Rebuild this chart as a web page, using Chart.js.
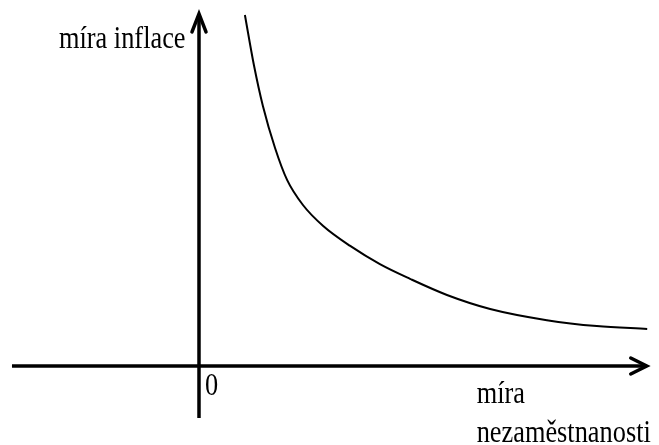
<!DOCTYPE html>
<html>
<head>
<meta charset="utf-8">
<script src="https://cdn.jsdelivr.net/npm/chart.js@4/dist/chart.umd.min.js"></script>
<style>
  html, body { margin: 0; padding: 0; background: #fff; }
  canvas { display: block; }
</style>
</head>
<body>
<canvas id="graph" width="659" height="445"></canvas>
<script>
// Phillipsova krivka (libovolne jednotky)
const unemployment = [1.02, 1.22, 1.42, 1.69, 1.96, 2.31, 2.76, 3.36, 4.02, 4.69, 5.51, 6.47, 7.73, 8.84, 9.96];
const inflation    = [10.03, 8.60, 7.43, 6.23, 5.31, 4.60, 4.00, 3.43, 2.91, 2.49, 2.03, 1.63, 1.31, 1.14, 1.06];

// rozsah os
const xRange = [-4.4222, 10.2222];
const yRange = [-2.2571, 10.4571];
const xAxisSpan = [-4.156, 9.95];
const yAxisSpan = [-1.486, 10.06];

const yLabel = 'míra inflace';
const xLabel = ['míra', 'nezaměstnanosti'];
const originLabel = '0';

const curve = unemployment.map((u, i) => ({x: u, y: inflation[i]}));

const serif = '"Liberation Serif", "DejaVu Serif", serif';

function serifText(ctx, txt, x, y) {
  ctx.save();
  ctx.translate(x, y);
  ctx.scale(0.85, 1);
  ctx.fillText(txt, 0, 0);
  ctx.restore();
}

const arrowsAndLabels = {
  id: 'arrowsAndLabels',
  afterDatasetsDraw(chart) {
    const ctx = chart.ctx;
    const xs = chart.scales.x, ys = chart.scales.y;
    const ox = xs.getPixelForValue(0), oy = ys.getPixelForValue(0);

    ctx.save();
    ctx.strokeStyle = '#000';
    ctx.lineWidth = 3.5;
    ctx.lineCap = 'round';
    ctx.lineJoin = 'miter';

    // sipka na ose x
    const tx = xs.getPixelForValue(xAxisSpan[1]);
    ctx.beginPath();
    ctx.moveTo(tx - 16, oy - 8);
    ctx.lineTo(tx, oy);
    ctx.lineTo(tx - 16, oy + 8);
    ctx.stroke();

    // sipka na ose y
    const ty = ys.getPixelForValue(yAxisSpan[1]);
    ctx.beginPath();
    ctx.moveTo(ox - 7, ty + 18);
    ctx.lineTo(ox, ty);
    ctx.lineTo(ox + 7, ty + 18);
    ctx.stroke();

    // popisky
    ctx.fillStyle = '#000';
    ctx.font = '31px ' + serif;
    ctx.textBaseline = 'alphabetic';
    ctx.textAlign = 'left';
    serifText(ctx, yLabel, ox - 140, ty + 34);
    serifText(ctx, originLabel, ox + 6, oy + 29);
    const lx = xs.getPixelForValue(6.17);
    serifText(ctx, xLabel[0], lx, oy + 37);
    serifText(ctx, xLabel[1], lx, oy + 76);
    ctx.restore();
  }
};

new Chart(document.getElementById('graph'), {
  type: 'scatter',
  data: {
    datasets: [
      {
        label: 'osa x',
        data: [{x: xAxisSpan[0], y: 0}, {x: xAxisSpan[1], y: 0}],
        showLine: true,
        borderColor: '#000',
        borderWidth: 3.5,
        pointRadius: 0
      },
      {
        label: 'osa y',
        data: [{x: 0, y: yAxisSpan[0]}, {x: 0, y: yAxisSpan[1]}],
        showLine: true,
        borderColor: '#000',
        borderWidth: 3.5,
        pointRadius: 0
      },
      {
        label: 'Phillipsova křivka',
        data: curve,
        showLine: true,
        borderColor: '#000',
        borderWidth: 2,
        pointRadius: 0,
        cubicInterpolationMode: 'monotone'
      }
    ]
  },
  options: {
    responsive: false,
    devicePixelRatio: 1,
    animation: false,
    layout: { padding: 0 },
    plugins: {
      legend: { display: false },
      tooltip: { enabled: false }
    },
    scales: {
      x: { type: 'linear', display: false, min: xRange[0], max: xRange[1] },
      y: { type: 'linear', display: false, min: yRange[0], max: yRange[1] }
    }
  },
  plugins: [arrowsAndLabels]
});
</script>
</body>
</html>
